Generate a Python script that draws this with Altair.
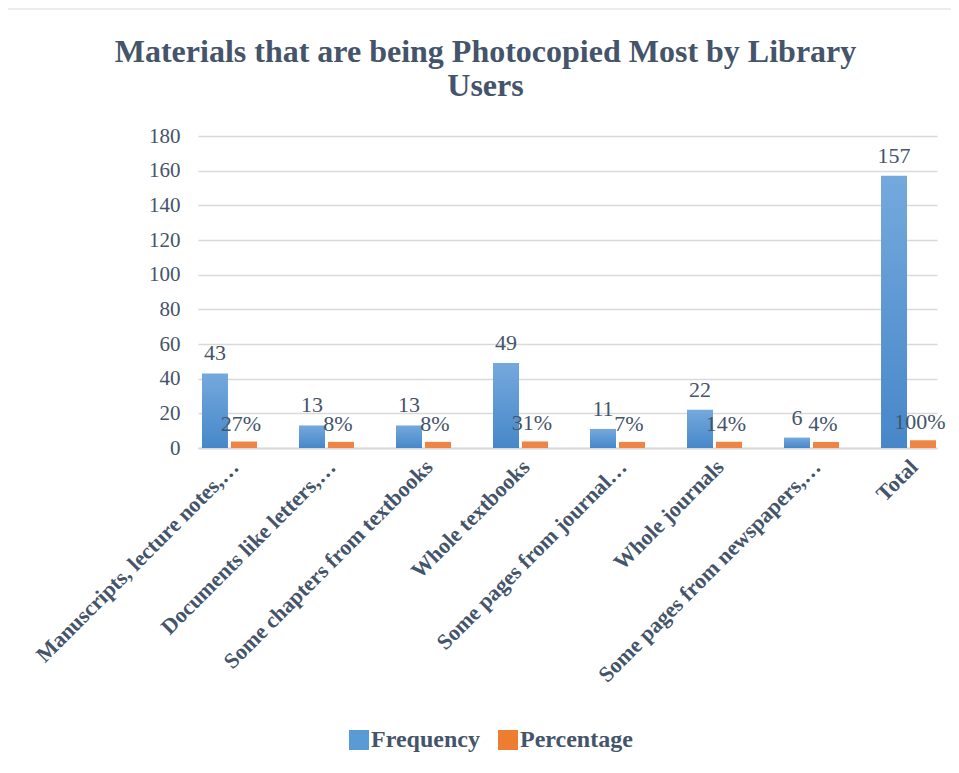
import altair as alt
import pandas as pd

categories = [
    "Manuscripts, lecture notes,…",
    "Documents like letters,…",
    "Some chapters from textbooks",
    "Whole textbooks",
    "Some pages from journal…",
    "Whole journals",
    "Some pages from newspapers,…",
    "Total",
]
frequency = [43, 13, 13, 49, 11, 22, 6, 157]
percentage = [0.27, 0.08, 0.08, 0.31, 0.07, 0.14, 0.04, 1.00]
series_names = ["Frequency", "Percentage"]
y_ticks = [0, 20, 40, 60, 80, 100, 120, 140, 160, 180]

rows = []
for c, f, p in zip(categories, frequency, percentage):
    rows.append({"category": c, "series": "Frequency", "value": f, "label": str(f)})
    rows.append({"category": c, "series": "Percentage", "value": p, "label": f"{round(p * 100)}%"})
df = pd.DataFrame(rows)

FONT = "Liberation Serif"
TXT = "#44546a"

blue_grad = {
    "gradient": "linear", "x1": 0, "y1": 0, "x2": 0, "y2": 1,
    "stops": [{"offset": 0, "color": "#74a9dd"}, {"offset": 1, "color": "#4787c9"}],
}

x_enc = alt.X(
    "category:N",
    sort=categories,
    scale=alt.Scale(paddingInner=0.464, paddingOuter=0.041),
    axis=alt.Axis(
        title=None,
        labelAngle=-45,
        labelAlign="right",
        labelBaseline="top",
        labelFont=FONT,
        labelFontWeight="bold",
        labelFontSize=22,
        labelColor=TXT,
        labelLimit=500,
        labelPadding=8,
        ticks=False,
        domainColor="#d9d9d9",
        domainWidth=2,
        grid=False,
    ),
)
xoff_enc = alt.XOffset(
    "series:N",
    sort=series_names,
    scale=alt.Scale(domain=series_names, paddingInner=0, paddingOuter=0),
)
y_enc = alt.Y(
    "value:Q",
    scale=alt.Scale(domain=[0, 180], nice=False),
    axis=alt.Axis(
        title=None,
        values=y_ticks,
        labelFont=FONT,
        labelFontSize=21,
        labelColor=TXT,
        labelPadding=18,
        ticks=False,
        domain=False,
        grid=True,
        gridColor="#d9d9d9",
        gridWidth=1.3,
    ),
)

base = alt.Chart(df)

legend_layer = base.mark_bar(opacity=0).encode(
    x=x_enc,
    xOffset=xoff_enc,
    y=y_enc,
    color=alt.Color(
        "series:N",
        sort=series_names,
        scale=alt.Scale(domain=series_names, range=["#5b9bd5", "#ed7d31"]),
        legend=alt.Legend(
            title=None,
            orient="none",
            legendX=149,
            legendY=592,
            direction="horizontal",
            symbolType="square",
            symbolSize=400,
            symbolOpacity=1,
            symbolStrokeWidth=0,
            labelFont=FONT,
            labelFontWeight="bold",
            labelFontSize=24,
            labelColor=TXT,
            labelOffset=0,
            columnPadding=16,
            padding=0,
        ),
    ),
)

blue_bars = base.transform_filter(alt.datum.series == "Frequency").mark_bar(fill=blue_grad).encode(
    x=x_enc, xOffset=xoff_enc, y=y_enc
)
orange_bars = base.transform_filter(alt.datum.series == "Percentage").mark_bar(
    fill="#ee8544", stroke="#ee8544", strokeWidth=6, yOffset=-3,
    width=alt.RelativeBandSize(0.77),
).encode(x=x_enc, xOffset=xoff_enc, y=y_enc)

freq_text = base.transform_filter(alt.datum.series == "Frequency").mark_text(
    font=FONT, fontSize=22, color=TXT, baseline="alphabetic", dy=-13
).encode(x=x_enc, xOffset=xoff_enc, y=y_enc, text="label:N")
pct_text = base.transform_filter(alt.datum.series == "Percentage").mark_text(
    font=FONT, fontSize=22, color=TXT, baseline="alphabetic", dy=-17
).encode(x=x_enc, xOffset=xoff_enc, y=y_enc, text="label:N")

border = alt.Chart(alt.Data(values=[{"a": 1}])).mark_rect(
    fillOpacity=0, stroke="#d9d9d9", strokeWidth=1.2
).encode(
    x=alt.value(-193), x2=alt.value(757), y=alt.value(-127), y2=alt.value(632)
)

chart = alt.layer(
    border, legend_layer, blue_bars, orange_bars, freq_text, pct_text
).properties(
    width=739,
    height=312,
    autosize=alt.AutoSizeParams(type="none"),
    padding={"left": 190, "top": 128, "right": 14, "bottom": 317},
    title=alt.TitleParams(
        text=["Materials that are being Photocopied Most by Library", "Users"],
        font=FONT,
        fontSize=32,
        fontWeight="bold",
        color=TXT,
        anchor="middle",
        dx=-82,
        offset=-95,
        lineHeight=34,
    ),
).configure_view(strokeWidth=0)

chart.save("out.html", embed_options={"renderer": "svg", "actions": False})
